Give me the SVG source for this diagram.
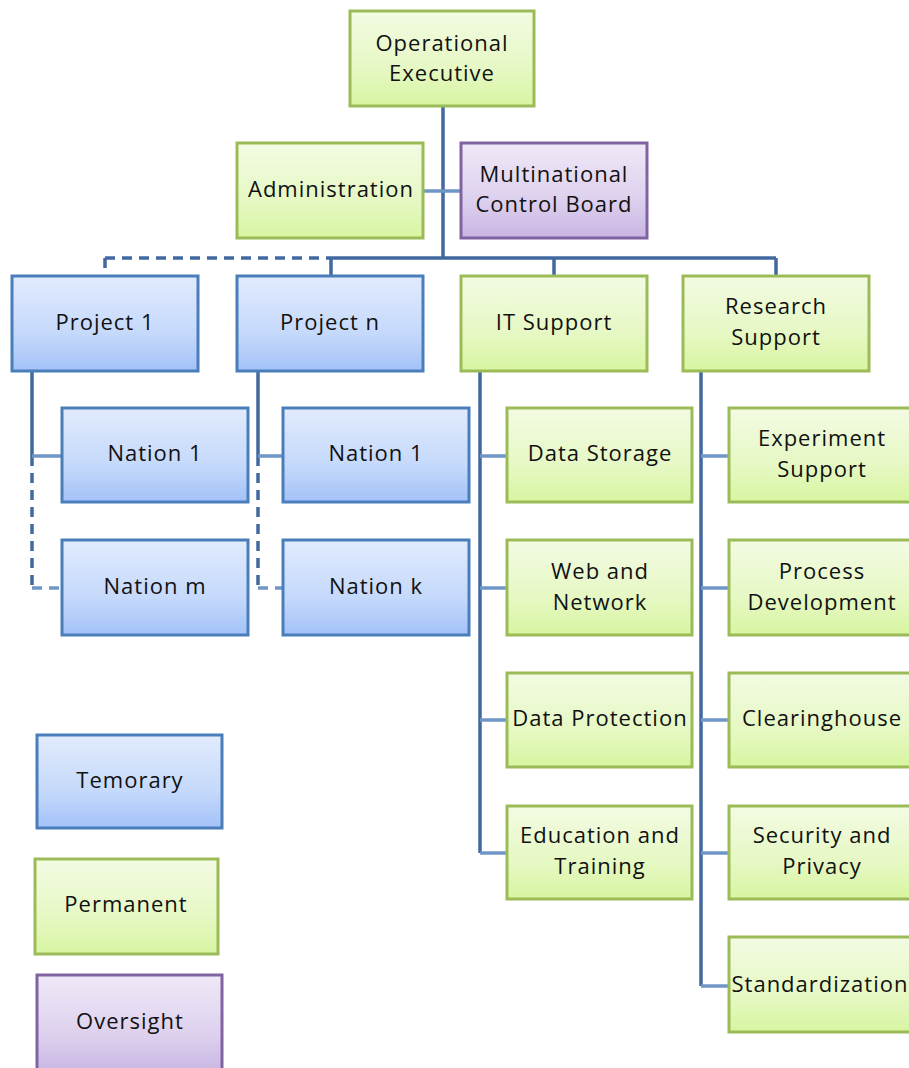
<svg xmlns="http://www.w3.org/2000/svg" width="909" height="1068" viewBox="0 0 909 1068">
<style>
.b{stroke:#4a7ebb;stroke-width:3;fill:url(#gb)}
.g{stroke:#9bbb59;stroke-width:3;fill:url(#gg)}
.p{stroke:#8064a2;stroke-width:3;fill:url(#gp)}
text{font-family:"Open Sans","Liberation Sans",sans-serif;font-size:22px;letter-spacing:1px;fill:#111;text-anchor:middle}
.m{stroke:#41699f;stroke-width:3.5;fill:none}
.c{stroke:#7096c8;stroke-width:3.5;fill:none}
.d{stroke-dasharray:10,7}
</style>
<defs>
<linearGradient id="gb" x1="0" y1="0" x2="0" y2="1"><stop offset="0" stop-color="#e1ebfd"/><stop offset="0.6" stop-color="#c5d9fb"/><stop offset="1" stop-color="#a3c2f9"/></linearGradient>
<linearGradient id="gg" x1="0" y1="0" x2="0" y2="1"><stop offset="0" stop-color="#f3fbe3"/><stop offset="0.6" stop-color="#e6f8c4"/><stop offset="1" stop-color="#d7f5a0"/></linearGradient>
<linearGradient id="gp" x1="0" y1="0" x2="0" y2="1"><stop offset="0" stop-color="#efe9f7"/><stop offset="0.6" stop-color="#ddd0ee"/><stop offset="1" stop-color="#c8b5e3"/></linearGradient>
</defs>
<g id="connectors">
<path class="m" d="M443 106V258M331 258H776M331 258V276M554 258V276M776 258V276"/>
<path class="m d" d="M105 258H331M105 258V276"/>
<path class="c" d="M423 191H461"/>
<path class="m" d="M32 371V456M258 371V456"/>
<path class="m d" d="M32 456V588M258 456V588"/>
<path class="c" d="M32 456H62M258 456H283"/>
<path class="c d" d="M32 588H62M258 588H283" stroke-dasharray="8,6"/>
<path class="m" d="M480 371V853M701 371V986"/>
<path class="c" d="M480 456H507M480 588H507M480 720H507M480 853H507M701 456H729M701 588H729M701 720H729M701 853H729M701 986H729"/>
</g>
<g id="operational-executive"><rect class="g" x="350" y="11" width="184" height="95"/><text x="442" y="51">Operational</text><text x="442" y="81">Executive</text></g>
<g id="administration"><rect class="g" x="237" y="143" width="186" height="95"/><text x="331" y="197">Administration</text></g>
<g id="multinational-control-board"><rect class="p" x="461" y="143" width="186" height="95"/><text x="554" y="182">Multinational</text><text x="554" y="212">Control Board</text></g>
<g id="project-1"><rect class="b" x="12" y="276" width="186" height="95"/><text x="105" y="330">Project 1</text></g>
<g id="project-n"><rect class="b" x="237" y="276" width="186" height="95"/><text x="330" y="330">Project n</text></g>
<g id="it-support"><rect class="g" x="461" y="276" width="186" height="95"/><text x="554" y="330">IT Support</text></g>
<g id="research-support"><rect class="g" x="683" y="276" width="186" height="95"/><text x="776" y="314">Research</text><text x="776" y="345">Support</text></g>
<g id="p1-nation-1"><rect class="b" x="62" y="408" width="186" height="94"/><text x="155" y="461">Nation 1</text></g>
<g id="p1-nation-m"><rect class="b" x="62" y="540" width="186" height="95"/><text x="155" y="594">Nation m</text></g>
<g id="pn-nation-1"><rect class="b" x="283" y="408" width="186" height="94"/><text x="376" y="461">Nation 1</text></g>
<g id="pn-nation-k"><rect class="b" x="283" y="540" width="186" height="95"/><text x="376" y="594">Nation k</text></g>
<g id="data-storage"><rect class="g" x="507" y="408" width="185" height="94"/><text x="600" y="461">Data Storage</text></g>
<g id="web-network"><rect class="g" x="507" y="540" width="185" height="95"/><text x="600" y="579">Web and</text><text x="600" y="610">Network</text></g>
<g id="data-protection"><rect class="g" x="507" y="673" width="185" height="94"/><text x="600" y="726">Data Protection</text></g>
<g id="education-training"><rect class="g" x="507" y="806" width="185" height="93"/><text x="600" y="843">Education and</text><text x="600" y="874">Training</text></g>
<g id="experiment-support"><rect class="g" x="729" y="408" width="186" height="94"/><text x="822" y="446">Experiment</text><text x="822" y="477">Support</text></g>
<g id="process-development"><rect class="g" x="729" y="540" width="186" height="95"/><text x="822" y="579">Process</text><text x="822" y="610">Development</text></g>
<g id="clearinghouse"><rect class="g" x="729" y="673" width="186" height="94"/><text x="822" y="726">Clearinghouse</text></g>
<g id="security-privacy"><rect class="g" x="729" y="806" width="186" height="93"/><text x="822" y="843">Security and</text><text x="822" y="874">Privacy</text></g>
<g id="standardization"><rect class="g" x="729" y="937" width="186" height="95"/><text x="820" y="992">Standardization</text></g>
<g id="legend-temporary"><rect class="b" x="37" y="735" width="185" height="93"/><text x="130" y="788">Temorary</text></g>
<g id="legend-permanent"><rect class="g" x="35" y="859" width="183" height="95"/><text x="126" y="912">Permanent</text></g>
<g id="legend-oversight"><rect class="p" x="37" y="975" width="185" height="100"/><text x="130" y="1029">Oversight</text></g>
</svg>
